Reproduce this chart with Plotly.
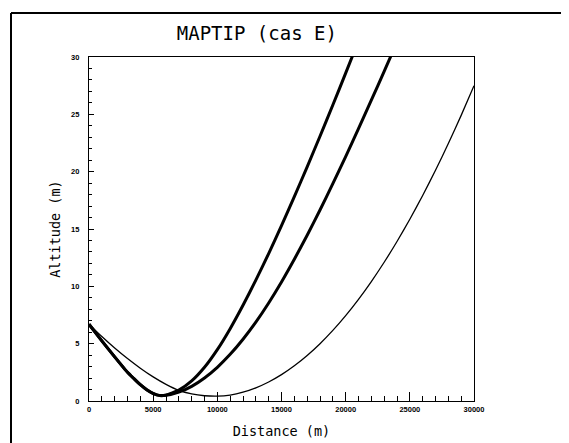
import plotly.graph_objects as go

# --- data ---
dist_thin = [0, 1000, 2000, 3000, 4000, 5000, 6000, 7000, 8000, 9000, 10000, 11000, 12000,
             13000, 14000, 15000, 16000, 17000, 18000, 19000, 20000, 21000, 22000, 23000,
             24000, 25000, 26000, 27000, 28000, 29000, 30000]
alt_thin = [6.7, 5.62, 4.62, 3.7, 2.86, 2.1, 1.45, 0.93, 0.62, 0.46, 0.42, 0.52, 0.77,
            1.15, 1.66, 2.3, 3.07, 3.97, 5.0, 6.16, 7.45, 8.87, 10.42, 12.1,
            13.91, 15.85, 17.92, 20.12, 22.45, 24.91, 27.5]

dist_a = [0, 1000, 2000, 3000, 3500, 4000, 4500, 5000, 5500, 6000, 7000, 8000, 9000, 10000,
          11000, 12000, 13000, 14000, 15000, 16000, 17000, 18000, 19000, 20000, 21000]
alt_a = [6.7, 5.25, 3.85, 2.5, 1.95, 1.42, 0.98, 0.65, 0.49, 0.53, 0.95, 1.75, 2.94, 4.48,
         6.31, 8.35, 10.54, 12.86, 15.29, 17.82, 20.42, 23.09, 25.81, 28.59, 31.41]

dist_b = [0, 1000, 2000, 3000, 3500, 4000, 4500, 5000, 5500, 6000, 7000, 8000, 9000, 10000,
          11000, 12000, 13000, 14000, 15000, 16000, 17000, 18000, 19000, 20000, 21000,
          22000, 23000, 24000]
alt_b = [6.7, 5.25, 3.85, 2.5, 1.95, 1.42, 0.98, 0.66, 0.47, 0.49, 0.77, 1.28, 2.01, 2.94,
         4.07, 5.39, 6.88, 8.55, 10.38, 12.36, 14.46, 16.66, 18.95, 21.32, 23.75,
         26.23, 28.75, 31.3]

x_ticks = [0, 5000, 10000, 15000, 20000, 25000, 30000]
y_ticks = [0, 5, 10, 15, 20, 25, 30]

fig = go.Figure()
fig.add_trace(go.Scatter(x=dist_thin, y=alt_thin, mode="lines",
                         line=dict(color="black", width=1.3, shape="spline", smoothing=0.5)))
fig.add_trace(go.Scatter(x=dist_a, y=alt_a, mode="lines",
                         line=dict(color="black", width=3, shape="spline", smoothing=0.5)))
fig.add_trace(go.Scatter(x=dist_b, y=alt_b, mode="lines",
                         line=dict(color="black", width=3, shape="spline", smoothing=0.5)))

tickfont = dict(family="Liberation Sans", size=7.5, color="black", weight="bold")
mono = "DejaVu Sans Mono"

# page has an 8px body margin, so the figure is 8px smaller and margins shifted
W, H = 561, 435
fig.update_layout(
    width=W, height=H,
    margin=dict(l=81, r=95, t=49, b=42),
    paper_bgcolor="white", plot_bgcolor="white",
    showlegend=False,
    title=dict(text="MAPTIP (cas E)", x=0.436, xref="paper", xanchor="center",
               y=1 - 25 / H, yref="container", yanchor="middle",
               font=dict(family=mono, size=19, color="black")),
    xaxis=dict(range=[0, 30000], tickvals=x_ticks, ticktext=[str(v) for v in x_ticks],
               ticks="inside", ticklen=9, tickwidth=1.2, tickcolor="black",
               minor=dict(dtick=1000, ticks="inside", ticklen=5, tickwidth=1, tickcolor="black"),
               showgrid=False, zeroline=False, showline=True, linecolor="black", linewidth=1.3,
               mirror=True, tickfont=tickfont, ticklabelstandoff=1, automargin=False,
               title=dict(text="Distance (m)", font=dict(family=mono, size=13.5, color="black"),
                          standoff=13)),
    yaxis=dict(range=[0, 30], tickvals=y_ticks, ticktext=[str(v) for v in y_ticks],
               ticks="inside", ticklen=5, tickwidth=1.2, tickcolor="black",
               minor=dict(dtick=1, ticks="inside", ticklen=3, tickwidth=1, tickcolor="black"),
               showgrid=False, zeroline=False, showline=True, linecolor="black", linewidth=1.3,
               mirror=True, tickfont=tickfont, ticklabelstandoff=7, automargin=False,
               title=dict(text="Altitude (m)", font=dict(family=mono, size=13.5, color="black"),
                          standoff=7)),
)

# outer frame (left and top edges of the page border)
fx = (11 - 89) / 385
fy_top = 1 + (57 - 13) / 344
fy_bot = -(443 - 401) / 344
fx_right = (569 - 89) / 385
fig.add_shape(type="line", xref="paper", yref="paper", x0=fx, x1=fx, y0=fy_bot, y1=fy_top,
              line=dict(color="black", width=2))
fig.add_shape(type="line", xref="paper", yref="paper", x0=fx, x1=fx_right, y0=fy_top, y1=fy_top,
              line=dict(color="black", width=2))

fig.write_html("out.html")
